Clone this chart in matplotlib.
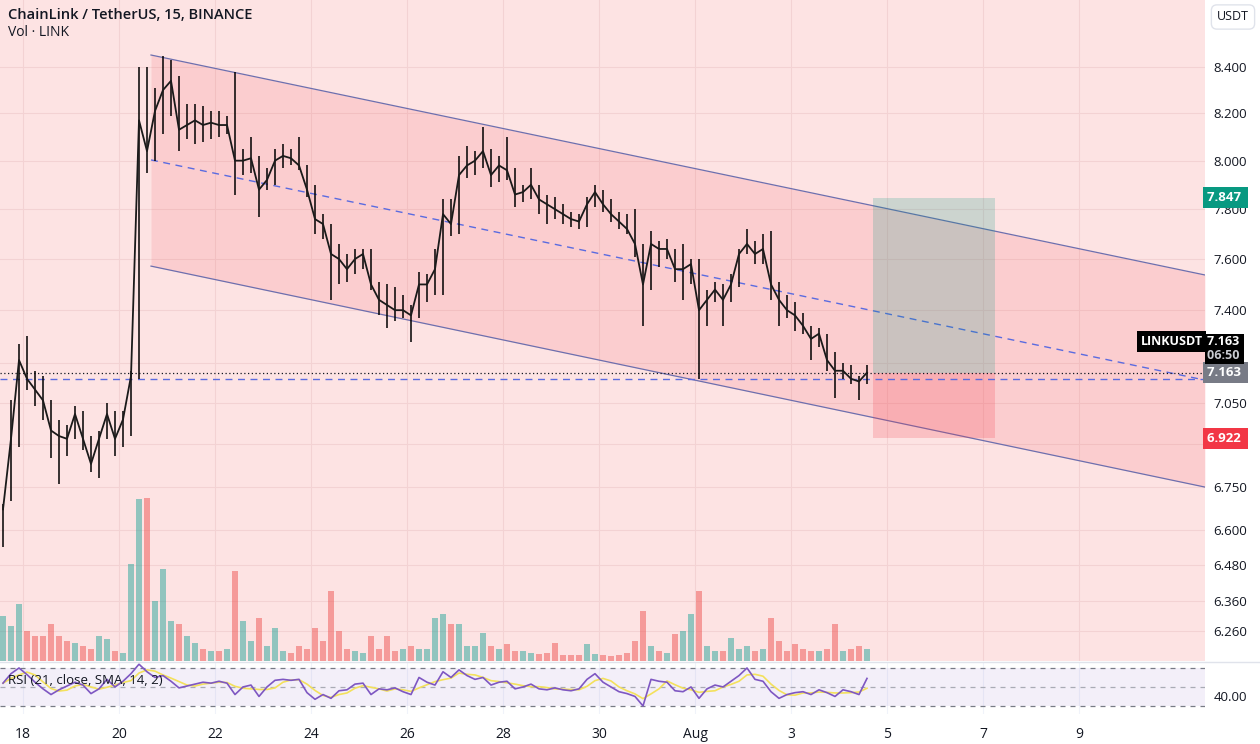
import numpy as np
import pandas as pd
import matplotlib
matplotlib.use("Agg")
import matplotlib.pyplot as plt
import matplotlib.transforms as mtrans

plt.rcParams['font.family'] = ['Open Sans', 'DejaVu Sans']

# 4-hour bars
first_open = 6.56
bar_high = [6.69, 7.06, 7.27, 7.30, 7.17, 7.15, 7.06, 6.99, 6.97, 7.04,
            7.02, 6.93, 6.95, 7.05, 7.02, 7.02, 7.17, 8.40, 8.40, 8.31,
            8.45, 8.43, 8.36, 8.24, 8.24, 8.23, 8.21, 8.21, 8.19, 8.38,
            8.05, 8.10, 8.02, 7.97, 8.05, 8.07, 8.05, 8.10, 7.98, 7.90,
            7.78, 7.74, 7.66, 7.62, 7.64, 7.64, 7.64, 7.51, 7.50, 7.49,
            7.46, 7.42, 7.55, 7.54, 7.64, 7.84, 7.84, 8.02, 8.06, 8.04,
            8.14, 8.05, 8.02, 8.10, 7.97, 7.90, 7.97, 7.90, 7.86, 7.85,
            7.82, 7.79, 7.78, 7.85, 7.90, 7.88, 7.84, 7.79, 7.78, 7.80,
            7.66, 7.71, 7.67, 7.68, 7.64, 7.66, 7.60, 7.60, 7.48, 7.51,
            7.50, 7.54, 7.64, 7.72, 7.67, 7.70, 7.71, 7.51, 7.46, 7.43,
            7.39, 7.34, 7.33, 7.31, 7.24, 7.20, 7.19, 7.15, 7.19]
bar_low = [6.54, 6.70, 6.89, 7.10, 7.04, 6.99, 6.85, 6.76, 6.86, 6.92,
           6.88, 6.80, 6.78, 6.92, 6.86, 6.89, 6.93, 7.14, 7.95, 8.00,
           8.11, 8.19, 8.04, 8.09, 8.07, 8.08, 8.09, 8.10, 8.11, 7.86,
           7.94, 7.95, 7.77, 7.88, 7.90, 7.97, 7.98, 7.96, 7.85, 7.70,
           7.68, 7.44, 7.50, 7.51, 7.54, 7.56, 7.48, 7.38, 7.33, 7.36,
           7.37, 7.28, 7.37, 7.43, 7.46, 7.46, 7.69, 7.70, 7.93, 7.94,
           7.97, 7.89, 7.91, 7.92, 7.81, 7.83, 7.84, 7.78, 7.74, 7.76,
           7.74, 7.73, 7.72, 7.73, 7.81, 7.79, 7.75, 7.72, 7.70, 7.61,
           7.34, 7.48, 7.57, 7.60, 7.51, 7.44, 7.50, 7.14, 7.34, 7.43,
           7.34, 7.43, 7.49, 7.62, 7.58, 7.58, 7.44, 7.34, 7.37, 7.32,
           7.31, 7.21, 7.26, 7.17, 7.07, 7.14, 7.12, 7.06, 7.12]
bar_close = [6.67, 6.92, 7.21, 7.14, 7.10, 7.06, 6.95, 6.93, 6.92, 7.01,
             6.92, 6.83, 6.92, 7.01, 6.92, 6.99, 7.15, 8.17, 8.04, 8.21,
             8.30, 8.34, 8.13, 8.15, 8.17, 8.15, 8.16, 8.15, 8.15, 8.00,
             8.00, 8.01, 7.88, 7.92, 8.00, 8.02, 8.01, 7.98, 7.88, 7.76,
             7.74, 7.62, 7.60, 7.56, 7.60, 7.62, 7.50, 7.44, 7.42, 7.40,
             7.40, 7.38, 7.50, 7.50, 7.56, 7.78, 7.74, 7.94, 7.98, 8.00,
             8.04, 7.94, 7.98, 7.96, 7.86, 7.87, 7.90, 7.84, 7.82, 7.80,
             7.78, 7.76, 7.75, 7.82, 7.87, 7.82, 7.78, 7.75, 7.72, 7.66,
             7.50, 7.66, 7.64, 7.64, 7.56, 7.56, 7.58, 7.40, 7.44, 7.48,
             7.44, 7.50, 7.62, 7.66, 7.62, 7.64, 7.50, 7.44, 7.40, 7.38,
             7.34, 7.29, 7.31, 7.21, 7.17, 7.17, 7.14, 7.13, 7.163]
bar_volume = [45, 35, 57, 30, 25, 25, 37, 25, 20, 18,
              15, 12, 25, 22, 10, 8, 97, 162, 163, 60,
              92, 40, 37, 25, 18, 12, 10, 10, 12, 90,
              40, 20, 43, 15, 33, 10, 8, 15, 12, 33,
              20, 70, 30, 12, 10, 8, 25, 12, 25, 10,
              12, 15, 12, 12, 43, 47, 37, 37, 15, 15,
              28, 15, 12, 17, 10, 10, 8, 7, 8, 18,
              6, 6, 6, 17, 7, 6, 5, 6, 8, 20,
              50, 15, 10, 8, 27, 30, 47, 70, 15, 10,
              10, 23, 12, 15, 10, 12, 43, 20, 10, 17,
              12, 10, 10, 12, 37, 10, 12, 15, 12]
rsi_values = [54, 64, 70, 63, 55, 48, 42, 47, 51, 55,
              52, 43, 48, 58, 50, 56, 64, 74, 66, 60,
              62, 56, 49, 51, 53, 55, 54, 56, 54, 42,
              50, 52, 40, 50, 57, 58, 57, 58, 44, 37,
              42, 38, 46, 47, 53, 54, 42, 48, 47, 49,
              45, 42, 60, 55, 52, 66, 60, 68, 62, 58,
              60, 52, 55, 56, 48, 50, 53, 48, 47, 49,
              47, 46, 48, 58, 64, 55, 50, 45, 43, 40,
              30, 58, 56, 55, 46, 45, 50, 38, 48, 52,
              50, 56, 62, 70, 58, 56, 45, 38, 42, 44,
              45, 42, 47, 44, 40, 47, 45, 42, 59]

times = pd.date_range("2022-07-17 14:00", periods=len(bar_close), freq="4h")

# drawings
channel_t = pd.to_datetime(["2022-07-20 16:00", "2022-08-11 15:00"])
channel_upper = [8.453, 7.537]
channel_mid = [8.003, 7.135]
channel_lower = [7.572, 6.748]
pos_t = pd.to_datetime(["2022-08-04 17:00", "2022-08-07 06:00"])
target_price, entry_price, stop_price = 7.847, 7.163, 6.922
hline_price = 7.139
last_price = 7.163

price_ticks = [6.26, 6.36, 6.48, 6.6, 6.75, 7.05, 7.4, 7.6, 7.8, 8.0, 8.2, 8.4]
hidden_grid = [6.9, 7.2]
date_ticks = pd.to_datetime(["2022-07-18", "2022-07-20", "2022-07-22", "2022-07-24",
                             "2022-07-26", "2022-07-28", "2022-07-30", "2022-08-01",
                             "2022-08-03", "2022-08-05", "2022-08-07", "2022-08-09"])
date_labels = ["18", "20", "22", "24", "26", "28", "30", "Aug", "3", "5", "7", "9"]
x_left, x_right = pd.Timestamp("2022-07-17 12:30"), pd.Timestamp("2022-08-11 15:00")

W, H = 1260, 744
fig = plt.figure(figsize=(W / 100, H / 100), dpi=100)
ax = fig.add_axes([0, (H - 661) / H, 1205 / W, 661 / H])
ax_rsi = fig.add_axes([0, (H - 714) / H, 1205 / W, 52 / H], sharex=ax)

ax.set_facecolor("#fde3e3")
ax.set_yscale("log")
ax.set_ylim(6.163, 8.699)
ax.set_xlim(x_left, x_right)

# grid
for t in date_ticks:
    ax.axvline(t, color="#f3d2d3", lw=0.8, zorder=0)
    ax_rsi.axvline(t, color="#f0f3fa", lw=0.8, zorder=0)
for p in price_ticks + hidden_grid:
    ax.axhline(p, color="#f3d2d3", lw=0.8, zorder=0)

# channel
ax.fill_between(channel_t, channel_lower, channel_upper, color="#f23645", alpha=0.12, lw=0, zorder=1)
ax.plot(channel_t, channel_upper, color="#6d6fae", lw=0.9, zorder=2)
ax.plot(channel_t, channel_lower, color="#6d6fae", lw=0.9, zorder=2)
ax.plot(channel_t, channel_mid, color="#5a6be0", lw=1.0, ls=(0, (5, 4)), zorder=2)

# long position
ax.fill_between(pos_t, entry_price, target_price, color="#089981", alpha=0.2, lw=0, zorder=2)
ax.fill_between(pos_t, stop_price, entry_price, color="#f23645", alpha=0.2, lw=0, zorder=2)

# volume (overlay at bottom of price pane)
opens = [first_open] + bar_close[:-1]
vol_max = max(bar_volume) * 661 / 163
vol_colors = ["#26a69a" if c >= o else "#ef5350" for o, c in zip(opens, bar_close)]
ax.bar(times, np.array(bar_volume) / vol_max, width=0.11, bottom=0,
       color=vol_colors, alpha=0.5, lw=0, transform=ax.get_xaxis_transform(), zorder=2)

# price lines
ax.axhline(hline_price, color="#5a6be0", lw=1.0, ls=(0, (5, 4)), zorder=3)
ax.axhline(last_price, color="#131722", lw=0.9, ls=(0, (1, 2)), zorder=3)

# candles: wicks plus close path
ax.vlines(times, bar_low, bar_high, color="#000000", lw=1.1, zorder=4)
ax.plot(times, bar_close, color="#1a1a1a", lw=1.3, zorder=5)

# price axis
ax.yaxis.tick_right()
ax.yaxis.set_major_locator(matplotlib.ticker.FixedLocator(price_ticks))
ax.yaxis.set_minor_locator(matplotlib.ticker.NullLocator())
ax.yaxis.set_major_formatter(matplotlib.ticker.FuncFormatter(lambda v, _: f"{v:.3f}"))
ax.tick_params(axis="y", length=0, pad=6, labelsize=9.5, labelcolor="#131722")
ax.tick_params(axis="x", which="both", length=0, labelbottom=False)
for s in ax.spines.values():
    s.set_visible(False)

# RSI pane
ax_rsi.set_facecolor("white")
ax_rsi.set_ylim(21.5, 76.3)
ax_rsi.axhspan(30, 70, color="#7e57c2", alpha=0.09, lw=0, zorder=0)
for lvl, col in [(70, "#787b86"), (50, "#a9abb5"), (30, "#787b86")]:
    ax_rsi.axhline(lvl, color=col, lw=0.9, ls=(0, (4, 4)), zorder=1)
rsi_sma = pd.Series(rsi_values).rolling(3, min_periods=1).mean()
ax_rsi.plot(times, rsi_sma, color="#f3e15c", lw=1.2, zorder=2)
ax_rsi.plot(times, rsi_values, color="#7e57c2", lw=1.2, zorder=3)
ax_rsi.yaxis.tick_right()
ax_rsi.set_yticks([40])
ax_rsi.yaxis.set_major_formatter(matplotlib.ticker.FuncFormatter(lambda v, _: f"{v:.2f}"))
ax_rsi.tick_params(axis="y", length=0, pad=6, labelsize=9.5, labelcolor="#131722")
ax_rsi.set_xticks(date_ticks)
ax_rsi.set_xticklabels(date_labels)
ax_rsi.tick_params(axis="x", length=0, pad=9, labelsize=10, labelcolor="#131722")
for s in ax_rsi.spines.values():
    s.set_visible(False)
ax_rsi.set_xlim(x_left, x_right)

# pane separator
fig.add_artist(plt.Line2D([0, 1], [(H - 661.5) / H] * 2, color="#e0e3eb", lw=1.0))

# price labels on the axis
yblend = mtrans.blended_transform_factory(ax.transAxes, ax.transData)
lab_x = 1.0015
kw = dict(transform=yblend, ha="left", va="center", fontsize=9.5, fontweight="bold",
          color="white", clip_on=False, zorder=10)
ax.text(lab_x, target_price, "7.847 ", bbox=dict(boxstyle="square,pad=0.3", fc="#089981", ec="none"), **kw)
ax.text(lab_x, stop_price, "6.922 ", bbox=dict(boxstyle="square,pad=0.3", fc="#f23645", ec="none"), **kw)
ax.text(lab_x, last_price, "7.163 ", bbox=dict(boxstyle="square,pad=0.3", fc="#787b86", ec="none"), **kw)
box_kw = dict(xycoords=yblend, textcoords="offset pixels", ha="left", va="center",
              fontsize=9, fontweight="bold", annotation_clip=False, zorder=10)
ax.annotate("7.163 ", xy=(lab_x, last_price), xytext=(0, 31), color="white",
            bbox=dict(boxstyle="square,pad=0.12", fc="#000000", ec="none"), **box_kw)
ax.annotate("06:50 ", xy=(lab_x, last_price), xytext=(0, 17), color="#c9cbd1",
            bbox=dict(boxstyle="square,pad=0.12", fc="#000000", ec="none"), **box_kw)
ax.annotate("LINKUSDT", xy=(0.998, last_price), xycoords=yblend, xytext=(0, 31),
            textcoords="offset pixels", ha="right", va="center", fontsize=9, fontweight="bold",
            color="white", annotation_clip=False, zorder=10,
            bbox=dict(boxstyle="square,pad=0.3", fc="#000000", ec="none"))

# header texts
fig.text(8 / W, 1 - 15 / H, "ChainLink / TetherUS, 15, BINANCE", fontsize=10.5,
         fontweight="semibold", color="#131722", va="center")
fig.text(8 / W, 1 - 33 / H, "Vol · LINK", fontsize=10, color="#131722", va="center")
fig.text(8 / W, 1 - 680 / H, "RSI (21, close, SMA, 14, 2)", fontsize=9.5, color="#131722", va="center")
fig.text(1233 / W, 1 - 17 / H, "USDT", fontsize=9, color="#131722", ha="center", va="center",
         bbox=dict(boxstyle="round,pad=0.45", fc="white", ec="#e0e3eb", lw=1))

fig.savefig("out.png", dpi=100, facecolor="white")
